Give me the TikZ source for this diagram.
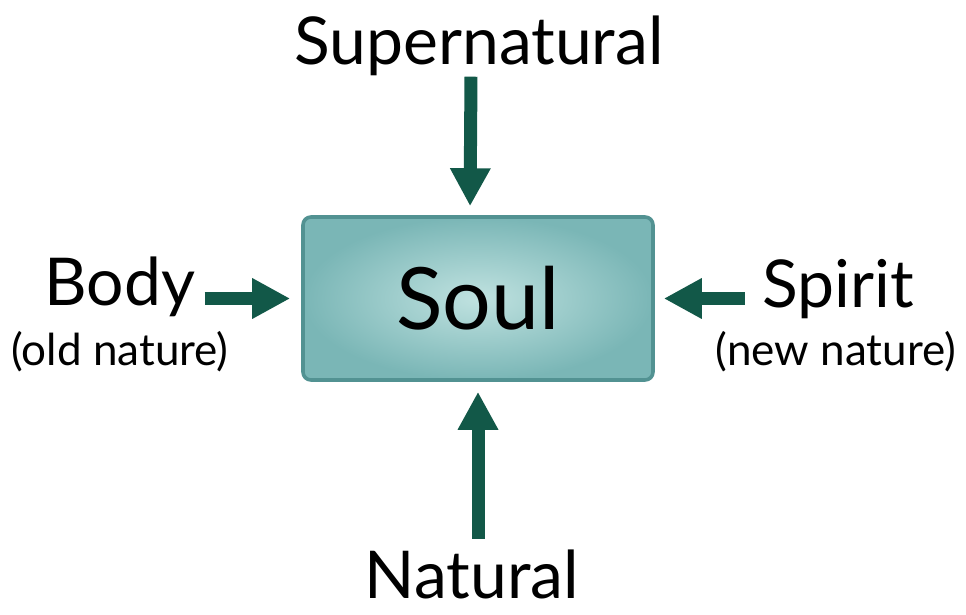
\documentclass[tikz,border=0pt]{standalone}
\usepackage{fontspec}
\setmainfont{Lato}
\usetikzlibrary{arrows.meta,positioning}
\definecolor{arrowgreen}{RGB}{18,88,72}
\definecolor{souledge}{RGB}{82,146,146}
\definecolor{soulouter}{RGB}{122,182,182}
\definecolor{soulinner}{RGB}{192,226,224}

\begin{document}
\begin{tikzpicture}[x=0.5pt,y=-0.5pt,
  lbl/.style={inner sep=0pt,anchor=base,font=\fontsize{33}{36}\selectfont},
  sub/.style={inner sep=0pt,anchor=base,font=\fontsize{22}{24}\selectfont},
  soulbox/.style={rectangle,rounded corners=4pt,draw=souledge,line width=1.8pt,
                  inner color=soulinner,outer color=soulouter,
                  minimum width=175pt,minimum height=81.5pt,font=\fontsize{43}{46}\selectfont},
  arr/.style={-{Triangle[width=19pt,length=19pt]},line width=6.5pt,color=arrowgreen}
]
  \useasboundingbox (0,0) rectangle (966,615);
  \node[soulbox] (soul) at (478,298.5) {Soul};
  \node[lbl] (super) at (479,65) {Supernatural};
  \node[lbl] (body) at (120,306) {Body};
  \node[sub] (oldnat) at (120,366) {(old nature)};
  \node[lbl] (spirit) at (838,308) {Spirit};
  \node[sub] (newnat) at (836,366) {(new nature)};
  \node[lbl] (natural) at (472,598) {Natural};
  \draw[arr,shorten >=4.5pt] ([xshift=-4pt]super.south) -- ([xshift=-4pt]soul.north);
  \draw[arr,shorten <=5pt,shorten >=5pt] (natural.north -| soul.south) -- (soul.south);
  \draw[arr,shorten <=4.5pt,shorten >=5.5pt] (body.east |- soul.west) -- (soul.west);
  \draw[arr,shorten <=8.5pt,shorten >=4.5pt] (spirit.west |- soul.east) -- (soul.east);
\end{tikzpicture}
\end{document}
